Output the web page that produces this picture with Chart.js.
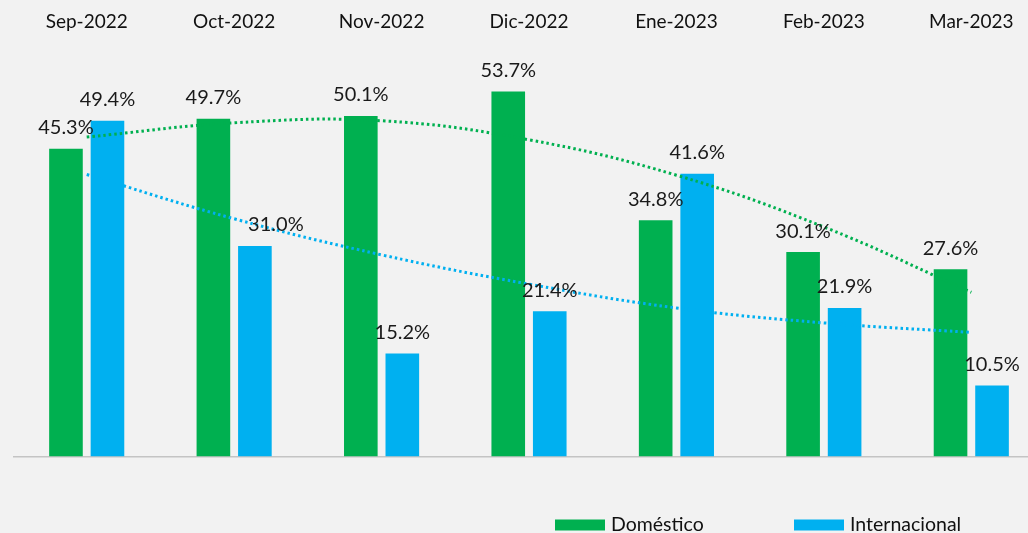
<!DOCTYPE html>
<html>
<head>
<meta charset="utf-8">
<script src="https://cdn.jsdelivr.net/npm/chart.js@4"></script>
<style>
  html, body { margin: 0; padding: 0; background: #f2f2f2; overflow: hidden; }
  #wrap { width: 1060px; height: 533px; }
</style>
</head>
<body>
<div id="wrap"><canvas id="chart" width="1060" height="533"></canvas></div>
<script>
// ----------------------------------------------------
//                     DATOS
// ----------------------------------------------------
const meses = ["Sep-2022", "Oct-2022", "Nov-2022", "Dic-2022", "Ene-2023", "Feb-2023", "Mar-2023"];
const domestico = [45.3, 49.7, 50.1, 53.7, 34.8, 30.1, 27.6];
const internacional = [49.4, 31.0, 15.2, 21.4, 41.6, 21.9, 10.5];
// líneas de tendencia
const tendDomestico = [47.0, 49.1, 49.4, 46.6, 41.4, 33.8, 24.2];
const tendInternacional = [41.5, 35.0, 29.7, 25.4, 21.9, 19.7, 18.3];

const VERDE = "#00B050";
const AZUL = "#00B0F0";
const FUENTE = "Lato, 'Open Sans', sans-serif";

// ----------------------------------------------------
//          Etiquetas encima de las barras
// ----------------------------------------------------
const barLabels = {
  id: "barLabels",
  afterDatasetsDraw(chart, args, opts) {
    const ctx = chart.ctx;
    ctx.save();
    ctx.font = opts.font;
    ctx.fillStyle = opts.color;
    ctx.textAlign = "center";
    ctx.textBaseline = "middle";
    chart.data.datasets.forEach((ds, i) => {
      if (ds.type !== "bar") return;
      chart.getDatasetMeta(i).data.forEach((bar, j) => {
        const dx = (opts.shiftX[ds.label] || {})[j] || 0;
        ctx.fillText(ds.data[j].toFixed(1) + "%", bar.x + dx, bar.y - opts.gap);
      });
    });
    ctx.restore();
  }
};

// ----------------------------------------------------
//               Leyenda inferior
// ----------------------------------------------------
const bottomLegend = {
  id: "bottomLegend",
  afterDraw(chart, args, opts) {
    const ctx = chart.ctx;
    ctx.save();
    ctx.font = opts.font;
    ctx.textAlign = "left";
    ctx.textBaseline = "middle";
    let x = opts.x;
    chart.data.datasets.filter(ds => ds.type === "bar").forEach(ds => {
      ctx.fillStyle = ds.backgroundColor;
      ctx.fillRect(x, opts.y - opts.boxH / 2, opts.boxW, opts.boxH);
      ctx.fillStyle = opts.color;
      ctx.fillText(ds.label, x + opts.boxW + opts.textGap, opts.y);
      x += opts.step;
    });
    ctx.restore();
  }
};

// ----------------------------------------------------
//                    GRÁFICO
// ----------------------------------------------------
new Chart(document.getElementById("chart"), {
  type: "bar",
  data: {
    labels: meses,
    datasets: [
      {
        type: "bar", label: "Doméstico", data: domestico,
        backgroundColor: VERDE, order: 2,
        barPercentage: 0.81, categoryPercentage: 0.563
      },
      {
        type: "bar", label: "Internacional", data: internacional,
        backgroundColor: AZUL, order: 2,
        barPercentage: 0.81, categoryPercentage: 0.563
      },
      {
        type: "line", label: "Tendencia Doméstico", data: tendDomestico,
        borderColor: VERDE, borderWidth: 3, borderDash: [2.5, 3],
        pointRadius: 0, tension: 0.4, fill: false, order: 1
      },
      {
        type: "line", label: "Tendencia Internacional", data: tendInternacional,
        borderColor: AZUL, borderWidth: 3, borderDash: [2.5, 3],
        pointRadius: 0, tension: 0.4, fill: false, order: 1
      }
    ]
  },
  options: {
    responsive: false,
    animation: false,
    layout: { padding: { top: -5.4, left: 13, right: 15, bottom: 76 } },
    scales: {
      x: {
        position: "top",
        grid: { display: false, drawTicks: false },
        border: { display: false },
        ticks: {
          padding: 15.6,
          color: "#111",
          font: { family: FUENTE, size: 19 },
          maxRotation: 0
        }
      },
      y: {
        min: 0,
        max: 60,
        ticks: { display: false },
        border: { display: false },
        grid: {
          drawTicks: false,
          lineWidth: 1.5,
          color: c => (c.tick && c.tick.value === 0) ? "#c4c4c4" : "rgba(0,0,0,0)"
        }
      }
    },
    plugins: {
      legend: { display: false },
      tooltip: { enabled: false },
      barLabels: {
        font: "20px " + FUENTE,
        color: "#1a1a1a",
        gap: 21,
        shiftX: { "Internacional": { 1: 21 } }
      },
      bottomLegend: {
        font: "19.5px " + FUENTE,
        color: "#111",
        x: 555, y: 525, boxW: 50, boxH: 11, textGap: 6, step: 239
      }
    }
  },
  plugins: [barLabels, bottomLegend]
});
</script>
</body>
</html>
